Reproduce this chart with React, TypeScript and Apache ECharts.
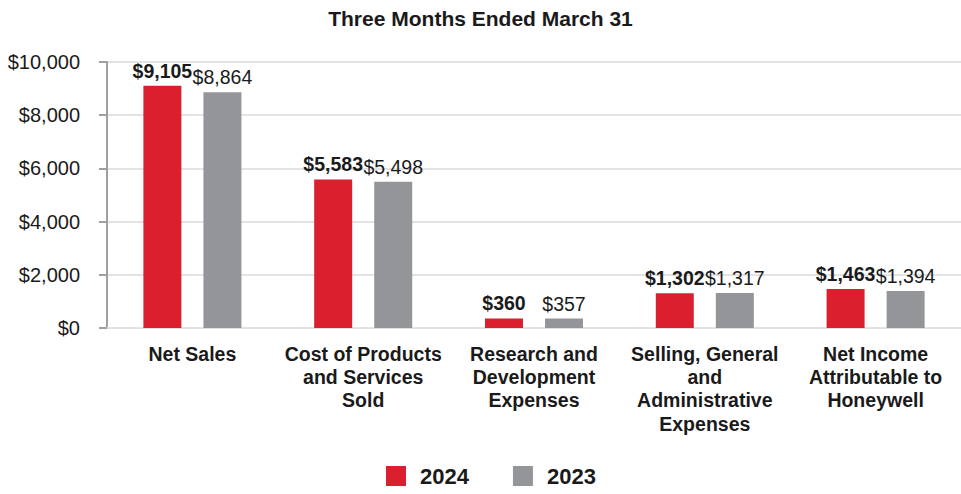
import React, { useEffect, useRef } from "react";
import * as echarts from "echarts";

const categories = [
  "Net Sales",
  "Cost of Products\nand Services\nSold",
  "Research and\nDevelopment\nExpenses",
  "Selling, General\nand\nAdministrative\nExpenses",
  "Net Income\nAttributable to\nHoneywell",
];
const values2024 = [9105, 5583, 360, 1302, 1463];
const values2023 = [8864, 5498, 357, 1317, 1394];
const yTicks = [0, 2000, 4000, 6000, 8000, 10000];

const FONT = "'Liberation Sans', Arial, sans-serif";
const fmt = (v: number) => "$" + v.toLocaleString("en-US");

export default function App() {
  const ref = useRef<HTMLDivElement>(null);
  useEffect(() => {
    if (!ref.current) return;
    const chart = echarts.init(ref.current, undefined, { renderer: "svg" });
    chart.setOption({
      animation: false,
      textStyle: { fontFamily: FONT },
      title: {
        text: "Three Months Ended March 31",
        left: "center",
        top: 3,
        textStyle: { fontFamily: FONT, fontSize: 21, fontWeight: "bold", color: "#1a1a1a" },
      },
      legend: {
        bottom: 2,
        left: 381,
        icon: "rect",
        itemWidth: 20,
        itemHeight: 20,
        itemGap: 44,
        textStyle: { fontFamily: FONT, fontSize: 22, fontWeight: "bold", color: "#1a1a1a", padding: [0, 0, 0, 9] },
        data: ["2024", "2023"],
      },
      grid: { left: 107, right: -6, top: 62, bottom: 166, containLabel: false },
      xAxis: {
        type: "category",
        data: categories,
        axisLine: { show: true, lineStyle: { color: "#e3e3e3", width: 2 } },
        axisTick: { show: false },
        axisLabel: {
          interval: 0,
          margin: 14,
          fontFamily: FONT,
          fontSize: 19.5,
          fontWeight: "bold",
          color: "#1a1a1a",
          lineHeight: 23.3,
        },
      },
      yAxis: {
        type: "value",
        min: 0,
        max: 10000,
        interval: 2000,
        axisLine: { show: true, lineStyle: { color: "#a0a0a0", width: 2 } },
        axisTick: { show: true, length: 8, lineStyle: { color: "#a0a0a0", width: 2 } },
        splitLine: { show: true, lineStyle: { color: "#e3e3e3", width: 2 } },
        axisLabel: {
          margin: 27,
          fontFamily: FONT,
          fontSize: 20,
          color: "#1a1a1a",
          formatter: (v: number) => (yTicks.includes(v) ? fmt(v) : ""),
        },
      },
      series: [
        {
          name: "2024",
          type: "bar",
          data: values2024,
          barWidth: 38,
          barGap: "58%",
          itemStyle: { color: "#da1f2e" },
          label: {
            show: true,
            position: "top",
            distance: 5,
            fontFamily: FONT,
            fontSize: 19.5,
            fontWeight: "bold",
            color: "#1a1a1a",
            formatter: (p: any) => fmt(p.value),
          },
        },
        {
          name: "2023",
          type: "bar",
          data: values2023,
          barWidth: 38,
          itemStyle: { color: "#939598" },
          label: {
            show: true,
            position: "top",
            distance: 5,
            fontFamily: FONT,
            fontSize: 19.5,
            color: "#1a1a1a",
            formatter: (p: any) => fmt(p.value),
          },
        },
      ],
    });
    return () => chart.dispose();
  }, []);
  return <div ref={ref} style={{ width: 961, height: 494, position: "absolute", left: 0, top: 0 }} />;
}
